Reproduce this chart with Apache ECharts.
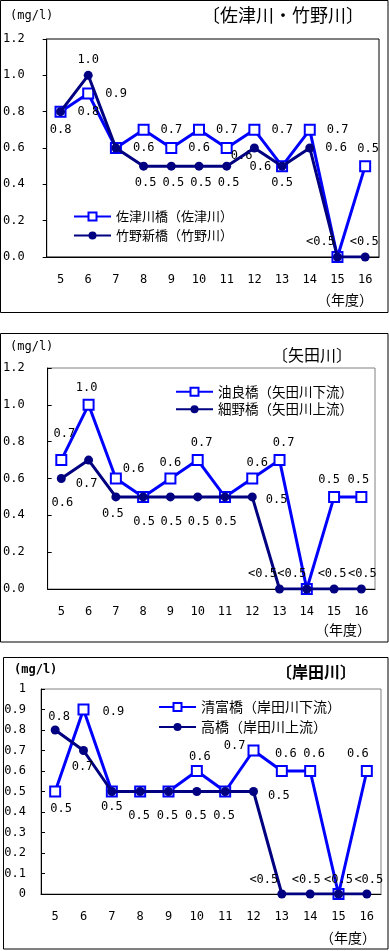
<!DOCTYPE html>
<html><head><meta charset="utf-8">
<script src="https://cdn.jsdelivr.net/npm/echarts@6.0.0/dist/echarts.min.js"></script>
<style>html,body{margin:0;padding:0;background:#fff;}#c{width:389px;height:951px;}</style>
</head><body><div id="c"></div>
<script>
// ---- data (fiscal years, Heisei) ; 0 = below detection (<0.5) ----
const categories = ['5','6','7','8','9','10','11','12','13','14','15','16'];
const yTicks1 = [0, 0.2, 0.4, 0.6, 0.8, 1.0, 1.2];
const yTicks3 = [0, 0.1, 0.2, 0.3, 0.4, 0.5, 0.6, 0.7, 0.8, 0.9, 1];
// Panel 1: 佐津川・竹野川
const sazugawaBashi = [0.8, 0.9, 0.6, 0.7, 0.6, 0.7, 0.6, 0.7, 0.5, 0.7, 0, 0.5];
const takenoShinbashi = [0.8, 1.0, 0.6, 0.5, 0.5, 0.5, 0.5, 0.6, 0.5, 0.6, 0, 0];
// Panel 2: 矢田川
const yuraBashi = [0.7, 1.0, 0.6, 0.5, 0.6, 0.7, 0.5, 0.6, 0.7, 0, 0.5, 0.5];
const hosonoBashi = [0.6, 0.7, 0.5, 0.5, 0.5, 0.5, 0.5, 0.5, 0, 0, 0, 0];
// Panel 3: 岸田川
const kiyotomiBashi = [0.5, 0.9, 0.5, 0.5, 0.5, 0.6, 0.5, 0.7, 0.6, 0.6, 0, 0.6];
const takahashi = [0.8, 0.7, 0.5, 0.5, 0.5, 0.5, 0.5, 0.5, 0, 0, 0, 0];

// ---- label placement (style only) ----
const R=['right',0,0];
const lab1Blue = [R,R,R,R,R,R,['right',-13,8],R,null,R,null,['top',3,0]];
const lab1Navy = [['bottom',0,3],['top',0,0],null,['bottom',2,1],['bottom',2,1],['bottom',2,1],['bottom',2,1],['bottom',6,3],['bottom',0,1],R,['top',-17,0],['top',-1,0]];
const lab2Blue = [['top',3,-9],['top',-2,0],['right',-10,-10],null,['top',0,1],['top',4,0],null,['top',5,1],['top',4,0],null,['top',-5,0],['top',-3,0]];
const lab2Navy = [['bottom',1,9],['bottom',-2,8],['bottom',-3,1],['bottom',1,9],['bottom',1,9],['bottom',1,9],['bottom',1,9],['right',-2,3],['top',-17,0],['top',-15,0],['top',-2,0],['top',1,0]];
const lab3Blue = [['bottom',6,0],['right',2,2],null,null,null,['top',3,3],null,['left',9,-5],['top',4,0],['top',4,0],null,['top',-9,0]];
const lab3Navy = [['top',4,2],['bottom',-1,1],['bottom',0,0],['bottom',-1,9],['bottom',-1,9],['bottom',-1,9],['bottom',-1,9],['right',-1,4],['top',-18,1],['top',-4,1],['top',0,1],['top',2,1]];

const MONO = '"DejaVu Sans Mono", "Liberation Mono", monospace';
const JP = '"Noto Sans CJK JP", sans-serif';
const BLUE = '#0000ff', NAVY = '#000080';

function fmt(p){ return p.value === 0 ? '<0.5' : Number(p.value).toFixed(1); }
function build(values, specs){
  return values.map((v,i)=>{
    const s = specs[i];
    if(!s) return {value:v, label:{show:false}};
    return {value:v, label:{show:true, position:s[0], offset:[s[1],s[2]], distance:(s[0]==='right'||s[0]==='left')?11:5}};
  });
}
function blueSeries(name, idx, values, specs){
  return {name, type:'line', xAxisIndex:idx, yAxisIndex:idx, data:build(values,specs),
    symbol:'emptyRect', symbolSize:10, showAllSymbol:true,
    lineStyle:{color:BLUE, width:3}, itemStyle:{color:BLUE, borderWidth:1.5},
    label:{fontFamily:MONO, fontSize:12, color:'#000', formatter:fmt},
    emphasis:{disabled:true}, z:2};
}
function navySeries(name, idx, values, specs){
  return {name, type:'line', xAxisIndex:idx, yAxisIndex:idx, data:build(values,specs),
    symbol:'circle', symbolSize:9, showAllSymbol:true,
    lineStyle:{color:NAVY, width:3}, itemStyle:{color:NAVY},
    label:{fontFamily:MONO, fontSize:12, color:'#000', formatter:fmt},
    emphasis:{disabled:true}, z:3};
}
function xAxis(idx){
  return {type:'category', gridIndex:idx, data:categories, boundaryGap:true,
    axisLine:{lineStyle:{color:'#000', width:1}},
    axisTick:{inside:true, length:4, lineStyle:{color:'#000'}},
    axisLabel:{fontFamily:MONO, fontSize:12, color:'#000', margin:17}, splitLine:{show:false}};
}
function yAxis(idx, ticks, interval, margin, tickInside, labFmt){
  return {type:'value', gridIndex:idx, min:ticks[0], max:ticks[ticks.length-1], interval,
    axisLine:{show:true, lineStyle:{color:'#000', width:1}},
    axisTick:{show:true, inside:tickInside, length:4, lineStyle:{color:'#000'}},
    axisLabel:{fontFamily:MONO, fontSize:12, color:'#000', margin, formatter:labFmt},
    splitLine:{show:false}};
}
const txt = (x,y,text,font,size,weight,align)=>({type:'text', x, y,
  style:{text, font:(weight||'normal')+' '+size+'px '+font, fill:'#000', textAlign:align||'left', textVerticalAlign:'middle'}});

const chart = echarts.init(document.getElementById('c'), null, {renderer:'canvas'});
chart.setOption({
  animation:false,
  backgroundColor:'#fff',
  grid:[
    {left:46, top:39, width:333, height:218, show:true, borderColor:'#000', borderWidth:1, backgroundColor:'transparent'},
    {left:46, top:368, width:329, height:221, show:true, borderColor:'#808080', borderWidth:1, backgroundColor:'transparent'},
    {left:41, top:689, width:340, height:205, show:true, borderColor:'#808080', borderWidth:1, backgroundColor:'transparent'}
  ],
  xAxis:[xAxis(0), xAxis(1), xAxis(2)],
  yAxis:[
    yAxis(0, yTicks1, 0.2, 22, false, v=>v.toFixed(1)),
    yAxis(1, yTicks1, 0.2, 23, true, v=>v.toFixed(1)),
    yAxis(2, yTicks3, 0.1, 15, true, v=>String(Math.round(v*10)/10))
  ],
  legend:[
    {data:['佐津川橋（佐津川）','竹野新橋（竹野川）'], orient:'vertical', left:68, top:205, itemWidth:37, itemHeight:10, itemGap:6,
      textStyle:{fontFamily:JP, fontSize:13, color:'#000'}, selectedMode:false},
    {data:['油良橋（矢田川下流）','細野橋（矢田川上流）'], orient:'vertical', left:170, top:380, itemWidth:37, itemHeight:10, itemGap:4,
      textStyle:{fontFamily:JP, fontSize:13.5, color:'#000'}, selectedMode:false},
    {data:['清富橋（岸田川下流）','高橋（岸田川上流）'], orient:'vertical', left:153, top:695, itemWidth:37, itemHeight:10, itemGap:6,
      textStyle:{fontFamily:JP, fontSize:14, color:'#000'}, selectedMode:false}
  ],
  series:[
    blueSeries('佐津川橋（佐津川）', 0, sazugawaBashi, lab1Blue),
    navySeries('竹野新橋（竹野川）', 0, takenoShinbashi, lab1Navy),
    blueSeries('油良橋（矢田川下流）', 1, yuraBashi, lab2Blue),
    navySeries('細野橋（矢田川上流）', 1, hosonoBashi, lab2Navy),
    blueSeries('清富橋（岸田川下流）', 2, kiyotomiBashi, lab3Blue),
    navySeries('高橋（岸田川上流）', 2, takahashi, lab3Navy)
  ],
  graphic:[
    {type:'rect', shape:{x:0.5, y:0.5, width:387.5, height:312}, style:{fill:'none', stroke:'#000', lineWidth:1}},
    {type:'rect', shape:{x:0.5, y:333.5, width:387.5, height:308.5}, style:{fill:'none', stroke:'#000', lineWidth:1}},
    {type:'rect', shape:{x:3.5, y:657.5, width:384.5, height:291.5}, style:{fill:'none', stroke:'#000', lineWidth:1}},
    txt(10, 16, '(mg/l)', MONO, 12),
    txt(10, 347, '(mg/l)', MONO, 12),
    txt(14, 670, '(mg/l)', MONO, 12, 'bold'),
    txt(364, 15, '〔佐津川・竹野川〕', JP, 18, 'normal', 'right'),
    txt(352, 355, '〔矢田川〕', JP, 16, 'normal', 'right'),
    txt(356, 672, '〔岸田川〕', JP, 16, 'bold', 'right'),
    txt(373, 300, '（年度）', JP, 14, 'normal', 'right'),
    txt(371, 630, '（年度）', JP, 14, 'normal', 'right'),
    txt(376, 938, '（年度）', JP, 14, 'normal', 'right')
  ]
});
</script></body></html>
